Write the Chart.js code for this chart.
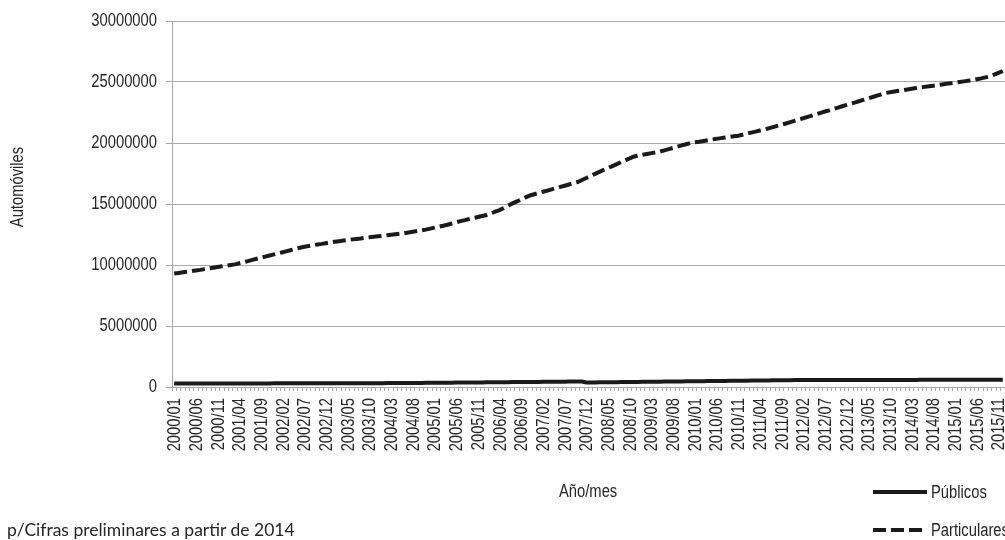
<!DOCTYPE html>
<html>
<head>
<meta charset="utf-8">
<script src="https://cdn.jsdelivr.net/npm/chart.js@4.4.1/dist/chart.umd.min.js"></script>
<style>
  html, body { margin:0; padding:0; background:#fff; overflow:hidden; }
  #wrap { position:relative; width:1005px; height:540px; overflow:hidden; }
  #wrap canvas { position:absolute; left:0; top:0; }
  .txt { position:absolute; font-family:'Liberation Sans',Arial,sans-serif; font-size:18px; color:#262626; white-space:nowrap; line-height:1; transform:scaleX(0.82); transform-origin:0 0; }
  .note { position:absolute; font-family:Lato,'Open Sans',sans-serif; font-size:17.5px; color:#262626; white-space:nowrap; line-height:1; }
  .lg-solid { position:absolute; height:4px; background:#1a1a1a; }
  .lg-dash { position:absolute; height:4px; background:repeating-linear-gradient(to right,#1a1a1a 0 13px,transparent 13px 18px); }
</style>
</head>
<body>
<div id="wrap">
  <canvas id="c" width="1005" height="540"></canvas>
  <div class="txt" style="left:559px; top:482px;">Año/mes</div>
  <div class="lg-solid" style="left:873px; top:490px; width:54px;"></div>
  <div class="txt" style="left:931px; top:483px;">Públicos</div>
  <div class="lg-dash" style="left:873px; top:528px; width:49px;"></div>
  <div class="txt" style="left:931px; top:521px;">Particulares</div>
  <div class="note" style="left:7px; top:521px;">p/Cifras preliminares a partir de 2014</div>
</div>
<script>
// Categories: monthly, 2000/01 .. 2015/12
const startYear = 2000;
const monthCount = 192;
const categories = [];
for (let i = 0; i < monthCount; i++) {
  const y = startYear + Math.floor(i / 12);
  const m = (i % 12) + 1;
  categories.push(y + '/' + (m < 10 ? '0' + m : m));
}

// Tick labels shown on the category axis
const tickLabels = [
  '2000/01','2000/06','2000/11','2001/04','2001/09','2002/02','2002/07','2002/12',
  '2003/05','2003/10','2004/03','2004/08','2005/01','2005/06','2005/11','2006/04',
  '2006/09','2007/02','2007/07','2007/12','2008/05','2008/10','2009/03','2009/08',
  '2010/01','2010/06','2010/11','2011/04','2011/09','2012/02','2012/07','2012/12',
  '2013/05','2013/10','2014/03','2014/08','2015/01','2015/06','2015/11'
];

// Y tick values
const yTicks = [0, 5000000, 10000000, 15000000, 20000000, 25000000, 30000000];

// Series values in thousands of vehicles
const publicosMiles = [
280,281,282,282,283,284,285,285,286,287,288,288,289,290,291,292,292,293,294,295,
295,296,297,298,298,299,300,301,302,302,303,304,305,305,306,307,308,308,309,310,
311,312,312,313,314,315,315,316,317,318,318,319,320,323,326,329,332,335,339,342,
345,348,351,354,357,360,363,366,370,373,376,379,382,385,388,391,394,397,401,404,
407,410,413,416,419,422,425,428,432,435,438,441,444,447,450,370,374,378,382,386,
390,394,398,403,407,411,415,419,423,427,431,435,439,444,448,452,456,460,464,468,
472,476,480,484,489,493,497,501,505,509,513,517,521,525,529,533,537,541,546,550,
554,558,562,566,570,571,571,572,572,573,573,574,574,575,575,576,576,577,577,578,
578,579,579,580,581,581,582,582,583,583,584,584,585,585,586,586,587,587,588,588,
589,589,590,590,591,592,592,593,593,594,594,595
];
const particularesMiles = [
9300,9350,9400,9450,9500,9550,9600,9660,9720,9780,9840,9900,9950,10000,10050,10140,10230,10320,10420,10510,
10600,10690,10780,10870,10960,11050,11140,11230,11320,11410,11500,11560,11620,11680,11730,11790,11850,11900,11950,12000,
12050,12100,12140,12180,12230,12270,12310,12350,12390,12430,12480,12520,12560,12600,12660,12720,12780,12840,12900,12980,
13060,13140,13220,13300,13400,13500,13600,13680,13770,13850,13930,14020,14100,14230,14370,14500,14680,14870,15050,15210,
15380,15540,15700,15800,15900,16000,16100,16200,16300,16400,16500,16600,16700,16800,16970,17130,17300,17470,17630,17800,
17960,18110,18270,18430,18590,18740,18900,18970,19030,19100,19170,19230,19300,19400,19500,19600,19700,19800,19900,20000,
20060,20110,20170,20230,20290,20340,20400,20450,20500,20550,20600,20680,20770,20850,20930,21020,21100,21200,21300,21400,
21500,21600,21710,21820,21930,22030,22140,22250,22360,22470,22580,22680,22790,22900,23010,23120,23230,23330,23440,23550,
23660,23770,23880,23990,24100,24160,24220,24280,24330,24390,24450,24500,24550,24600,24650,24700,24750,24800,24850,24900,
24950,25000,25050,25100,25150,25230,25300,25380,25450,25600,25750,25900
];

const seriesNames = ['Públicos', 'Particulares'];
const yTitle = 'Automóviles';

const FONT = "'Liberation Sans',Arial,sans-serif";
const NARROW = 0.82;   // condense Liberation Sans to Arial Narrow proportions
const GRID = '#a9a9a9';
const TEXT = '#262626';

// Draws axis tick labels and the y title in a condensed face
const narrowTextPlugin = {
  id: 'narrowText',
  afterDraw(chart) {
    const ctx = chart.ctx;
    const xs = chart.scales.x, ys = chart.scales.y;
    const area = chart.chartArea;
    ctx.save();
    ctx.fillStyle = TEXT;
    ctx.font = '18px ' + FONT;
    ctx.textBaseline = 'middle';
    // y tick labels
    yTicks.forEach(v => {
      ctx.save();
      ctx.translate(area.left - 15, ys.getPixelForValue(v));
      ctx.scale(NARROW, 1);
      ctx.textAlign = 'right';
      ctx.fillText(String(v), 0, 0);
      ctx.restore();
    });
    // x tick labels (rotated, reading upward)
    categories.forEach((c, i) => {
      if (tickLabels.indexOf(c) < 0) return;
      ctx.save();
      ctx.translate(xs.getPixelForValue(i), area.bottom + 11);
      ctx.rotate(-Math.PI / 2);
      ctx.scale(NARROW, 1);
      ctx.textAlign = 'right';
      ctx.fillText(c, 0, 1);
      ctx.restore();
    });
    // y axis title
    ctx.save();
    ctx.translate(18, area.top + 166);
    ctx.rotate(-Math.PI / 2);
    ctx.scale(NARROW, 1);
    ctx.textAlign = 'center';
    ctx.fillText(yTitle, 0, 0);
    ctx.restore();
    ctx.restore();
  }
};

new Chart(document.getElementById('c'), {
  type: 'line',
  data: {
    labels: categories,
    datasets: [
      {
        label: seriesNames[0],
        data: publicosMiles.map(v => v * 1000),
        borderColor: '#1a1a1a',
        borderWidth: 4,
        pointRadius: 0,
        tension: 0,
        fill: false
      },
      {
        label: seriesNames[1],
        data: particularesMiles.map(v => v * 1000),
        borderColor: '#1a1a1a',
        borderWidth: 4,
        borderDash: [13, 5],
        pointRadius: 0,
        tension: 0,
        fill: false
      }
    ]
  },
  plugins: [narrowTextPlugin],
  options: {
    responsive: false,
    animation: false,
    events: [],
    layout: { padding: { left: 0, right: 0, top: 21, bottom: 0 } },
    plugins: {
      legend: { display: false },
      tooltip: { enabled: false }
    },
    scales: {
      x: {
        type: 'category',
        offset: true,
        border: { display: true, color: GRID, width: 1 },
        grid: { display: true, drawOnChartArea: false, drawTicks: true, tickLength: 4, color: GRID, offset: true },
        ticks: { display: false, autoSkip: false },
        afterFit: function (s) { s.height = 540 - 387; s.paddingLeft = 0; s.paddingRight = 0; }
      },
      y: {
        min: yTicks[0],
        max: yTicks[yTicks.length - 1],
        border: { display: true, color: GRID, width: 1 },
        grid: { color: GRID, lineWidth: 1, tickLength: 6, drawTicks: true },
        afterBuildTicks: function (s) { s.ticks = yTicks.map(v => ({ value: v })); },
        ticks: { display: false },
        afterFit: function (s) { s.width = 172; s.paddingTop = 0; s.paddingBottom = 0; }
      }
    }
  }
});
</script>
</body>
</html>
